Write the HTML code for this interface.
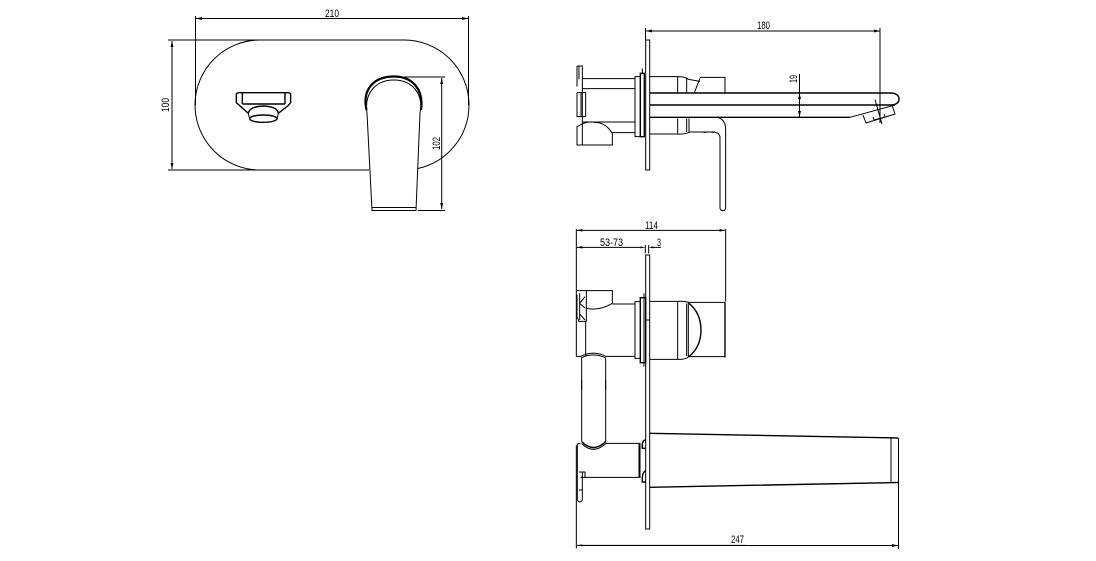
<!DOCTYPE html>
<html><head><meta charset="utf-8"><style>
html,body{margin:0;padding:0;background:#fff;width:1096px;height:561px;overflow:hidden}
svg{display:block}
path,line,rect,ellipse{fill:none;stroke:#000;stroke-width:1;vector-effect:non-scaling-stroke}
.t{stroke-width:1.4}.g{stroke:#555;stroke-width:1}.h{stroke-width:2.2}
.a{fill:#000;stroke:none}
text{font-family:"Liberation Sans",sans-serif;font-size:11px;fill:#000;lengthAdjust:spacingAndGlyphs}
</style></head><body>
<svg width="1096" height="561" viewBox="0 0 1096 561" xmlns="http://www.w3.org/2000/svg">
<!-- front view -->
<path d="M369 170H260A65 65 0 0 1 260 40H404A65 65 0 0 1 469 105A65 65 0 0 1 418 168.500"/>
<path d="M195.500 16V105M468.500 16V105M196 18.500H468"/>
<path class="a" d="M196 18.500l6-1.500v3zM468 18.500l-6-1.500v3z"/>
<path d="M168 40H260M168 170H260M172 41V169M404 77H445M418 210.500H445M441.700 78V209"/>
<path class="a" d="M172 41l-1.500 6h3zM172 169l-1.500-6h3zM441.700 78l-1.500 6h3zM441.700 209l-1.500-6h3z"/>
<path d="M367 113L372 210.500H416L420 113"/>
<path class="h" d="M366.500 110C362 90 373 76.500 394 76.500C413 76.500 424 90 421 110"/>
<path d="M367 113C364 94 375 80 394 80C412 80 424 94 420 113M372 207.500H416"/>
<g transform="translate(225 80) scale(.3333)">
<path class="t" d="M34 45Q34 38 42 38H190Q197 38 197 45V68L188 78L160 100M34 45V68L70 100M52 38V72M180 38V72M70 100Q72 80 115 78Q158 80 160 100M52 72H180"/>
<path d="M70 100L74 118M160 100L156 118"/>
<ellipse class="t" cx="115" cy="116" rx="41" ry="11"/>
</g>
<text transform="translate(169 112) rotate(-90)" textLength="14" lengthAdjust="spacingAndGlyphs">100</text>
<text transform="translate(440 150) rotate(-90)" textLength="13" lengthAdjust="spacingAndGlyphs">102</text>
<text x="325" y="17" textLength="14" lengthAdjust="spacingAndGlyphs">210</text>

<!-- side view -->
<rect x="645.700" y="40" width="4" height="130"/>
<path d="M645.500 28V40M646 31H880M880 28V123M799.500 74V117"/>
<path class="a" d="M646 31l6-1.500v3zM880 31l-6-1.500v3zM799.500 93l-1.500 6h3zM799.500 117l-1.500-6h3z"/>
<g transform="translate(565 20) scale(.3333)">
<path d="M36 138H52V375H36V320Q70 300 90 308Q120 305 142 340V375H52M36 138V200"/>
<path d="M36 218H62V290H36V218M42 138V178M48 218V290"/>
<path d="M52 176H210V206H52M52 306H210V338H142M210 170H226V350H210Z"/>
<path class="t" d="M226 160H238V350H226Z"/>
<path d="M232 145V160"/>
<path d="M254 170H338Q360 170 370 178L405 184M338 170V218M365 172V218M405 172H480V218M405 175L388 218M254 342H338Q360 344 375 336H450M338 295V342M365 295V336M372 295V336"/>
<path d="M416 338Q432 334 448 338"/>
<path d="M462 294Q480 300 482 325V562Q482 572 473 572Q465 572 465 562V350Q462 338 450 337"/>
</g>
<path class="t" d="M649.700 93H892Q899 94 899 99Q899 104 892 105H649.700M649.700 117.300H850"/>
<path d="M850 117.300L895 105M863 115L866 123L895 114L892 105M873 117L874 120L885 117L884 114M875 99.500L882 124"/>
<text x="757" y="29" textLength="13" lengthAdjust="spacingAndGlyphs">180</text>
<text transform="translate(797 83) rotate(-90)" textLength="8" lengthAdjust="spacingAndGlyphs">19</text>

<!-- lower view -->
<rect x="645.700" y="255" width="4" height="274"/>
<g transform="translate(565 220) scale(.3333)">
<path d="M34 27V410M482 27V245M36 31H480M36 82H230M262 82H288M241 75V100M251 75V100"/>
<path class="a" d="M36 31l16-4v8zM480 31l-16-4v8zM36 82l16-4v8zM241 82l-14-3v6zM251 82l14-3v6z"/>
<path d="M34 212H142V250Q100 275 62 264M36 212H64V304H42L36 290V225M44 220V300M60 230L44 250L60 264M44 282L60 300"/>
<path d="M142 252H210M62 304V409M34 409H48Q85 390 122 409H210M48 414Q85 395 122 414M50 414V510M122 414V510M210 245H226V415H210Z"/>
<path class="t" d="M226 233H242V428H226Z"/>
<path d="M237 220V440M254 300H242"/>
<path d="M254 244H338Q358 243 372 247H480M254 418H338Q358 420 372 410H480M338 244V418M370 247V410M365 250V408"/>
<path class="t" d="M372 250Q408 280 408 330Q408 380 372 410M480 247V412"/>
</g>
<text x="600" y="246" textLength="23" lengthAdjust="spacingAndGlyphs">53-73</text>
<text x="657" y="246" textLength="4" lengthAdjust="spacingAndGlyphs">3</text>
<text x="645" y="229" textLength="13" lengthAdjust="spacingAndGlyphs">114</text>

<g transform="translate(565 380) scale(.3333)">
<path d="M50 0V185M122 0V185M34 196V505M36 496H540"/>
<path class="t" d="M50 185Q85 220 122 185"/>
<path d="M50 191Q85 225 122 191M122 190H225V292H56M222 192V292"/>
<path class="t" d="M242 180Q230 180 232 205H242M242 272Q230 278 232 306H242"/>
<path d="M36 196Q36 190 46 190M37 196V360Q44 372 52 360V276H42M46 276H60V292H46M42 330H52"/>
<path class="a" d="M36 496l16-3v6z"/>
</g>
<path d="M891 437V482M898.500 438V549M578 545.500H898"/>
<path class="t" d="M649.700 433.300L898 438M649.700 487.300L898 482.500"/>
<path class="a" d="M898 545.500l-6-1.500v3z"/>
<text x="731" y="543" textLength="13" lengthAdjust="spacingAndGlyphs">247</text>
</svg>
</body></html>
